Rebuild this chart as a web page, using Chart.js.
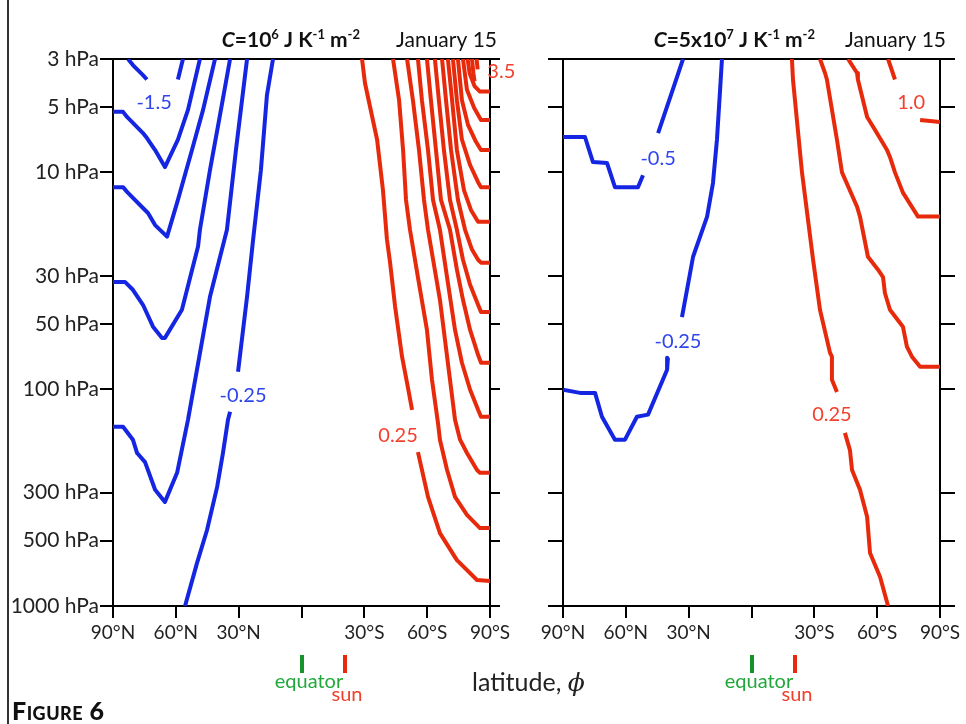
<!DOCTYPE html>
<html>
<head>
<meta charset="utf-8">
<title>Figure 6</title>
<script src="https://cdn.jsdelivr.net/npm/chart.js@4.4.1/dist/chart.umd.min.js"></script>
<style>
  body { margin: 0; background: #fff; }
  #fig { position: relative; width: 966px; height: 724px; overflow: hidden; font-family: Lato, "Noto Sans", sans-serif; color: #111; }
  #left { position: absolute; left: 0; top: 0; }
  #right { position: absolute; left: 520px; top: 0; }
  #frame { position: absolute; left: 7px; top: -4px; width: 960px; height: 740px; border-left: 2px solid #333; }
  #xlabel { position: absolute; left: 472px; top: 667px; font-size: 25px; line-height: 28px; white-space: nowrap; color: #222; }
  #xlabel i { font-family: "DejaVu Serif", serif; font-size: 25px; }
  #fignum { position: absolute; left: 12px; top: 696px; font-size: 25px; font-weight: 900; font-variant: small-caps; letter-spacing: 0.5px; line-height: 28px; }
</style>
</head>
<body>
<div id="fig">
  <div id="frame"></div>
  <canvas id="left" width="520" height="724"></canvas>
  <canvas id="right" width="446" height="724"></canvas>
  <div id="xlabel">latitude, <i>ϕ</i></div>
  <div id="fignum">Figure 6</div>
</div>
<script>
// axes: latitude in degrees (north positive), pressure in hPa
const latTicks = [90, 60, 30, 0, -30, -60, -90];
const pressureTicks = [3, 5, 10, 30, 50, 100, 300, 500, 1000];
const sunLat = -21;

// contours, C = 1e6 J K-1 m-2   ([lat, hPa], null = break for the label)
const leftNeg150 = [[82.8, 3], [80.5, 3.2], [75.7, 3.56], [73.8, 3.73], null, [59.0, 3.73], [56.6, 3]];
const leftNeg125 = [[90, 5.26], [85.2, 5.26], [83.3, 5.55], [75.7, 6.59], [73.8, 6.95], [69.9, 7.89], [65.2, 9.45], [59.0, 7.07], [54.2, 5.15], [48.5, 3]];
const leftNeg100 = [[90, 11.7], [85.2, 11.7], [83.3, 12.3], [75.7, 14.6], [73.3, 15.4], [69.9, 17.5], [64.2, 19.8], [59.0, 13.4], [52.3, 7.89], [47.0, 5.15], [41.3, 3]];
const leftNeg075 = [[90, 32.0], [84.3, 32.0], [80.5, 34.8], [75.7, 40.8], [70.9, 51.5], [66.6, 58.0], [65.2, 58.0], [57.1, 43.0], [49.4, 22.0], [48.5, 18.4], [43.7, 9.77], [38.9, 5.43], [34.1, 3]];
const leftNeg050 = [[90, 149], [85.2, 149], [80.5, 171], [78.5, 197], [74.7, 217], [69.9, 291], [65.2, 331], [59.4, 243], [54.2, 138.5], [49.9, 81.3], [43.7, 37.5], [35.6, 18.4], [31.3, 7.89], [26.0, 3]];
const leftNeg025 = [[13.6, 3], [16.5, 4.4], [19.4, 9.8], [23.1, 20.4], [26.0, 37.5], [30.3, 83], null, [34.1, 127], [35.1, 138.5], [37.5, 197], [40.3, 283], [45.1, 446], [49.9, 634], [55.6, 1000]];

const leftPos025 = [[-28.9, 3], [-30.3, 3.87], [-36.1, 7.07], [-38.9, 12.1], [-40.8, 20.4], [-42.3, 26.1], [-44.7, 41.7], [-48.0, 70.8], [-50.4, 93.4], [-52.8, 124.5], null, [-55.6, 195], [-60.4, 314], [-66.1, 461], [-74.2, 614], [-83.8, 759], [-90, 767]];
const leftPos050 = [[-43.7, 3], [-46.6, 4.65], [-48.5, 7.89], [-49.9, 13.4], [-51.8, 18.4], [-55.6, 30.5], [-59.9, 53.3], [-62.3, 90.4], [-65.2, 144], [-66.1, 171], [-69.5, 236], [-73.3, 314], [-79.0, 380], [-85.2, 437], [-90, 437]];
const leftPos075 = [[-50.4, 3], [-53.2, 4.65], [-56.1, 7.89], [-58.5, 13.4], [-60.4, 18.4], [-66.1, 38.7], [-70.9, 90.4], [-73.3, 138.5], [-75.7, 171], [-79.0, 197], [-83.8, 236], [-85.2, 243], [-90, 243]];
const leftPos100 = [[-55.6, 3], [-57.5, 4.65], [-60.4, 7.89], [-62.8, 13.4], [-66.1, 18.4], [-69.5, 30.5], [-73.3, 53.3], [-76.6, 75.5], [-80.5, 100.6], [-84.3, 124.5], [-85.7, 134], [-90, 134]];
const leftPos125 = [[-59.9, 3], [-61.8, 4.65], [-64.2, 7.89], [-66.6, 13.4], [-70.9, 18.4], [-74.2, 28.1], [-77.1, 38.7], [-80.5, 53.3], [-84.3, 69.4], [-85.7, 75.5], [-90, 75.5]];
const leftPos150 = [[-63.7, 3], [-65.6, 4.65], [-68.0, 7.89], [-70.9, 13.4], [-74.2, 18.4], [-77.1, 25.3], [-80.5, 33.0], [-84.3, 40.8], [-85.7, 44.0], [-90, 44.0]];
const leftPos175 = [[-67.1, 3], [-69.0, 4.65], [-71.4, 7.89], [-74.7, 13.4], [-78.1, 18.4], [-81.4, 22.7], [-84.3, 25.3], [-85.7, 26.1], [-90, 26.1]];
const leftPos200 = [[-69.9, 3], [-71.9, 4.65], [-74.2, 7.89], [-77.6, 12.1], [-80.9, 14.9], [-84.3, 16.9], [-85.7, 16.9], [-90, 16.9]];
const leftPos225 = [[-72.3, 3], [-74.2, 4.65], [-76.6, 7.07], [-80.5, 9.25], [-84.3, 11.1], [-85.7, 11.7], [-90, 11.7]];
const leftPos250 = [[-74.7, 3], [-76.6, 4.65], [-79.5, 6.04], [-83.3, 7.23], [-85.7, 7.89], [-90, 7.89]];
const leftPos275 = [[-77.1, 3], [-79.0, 4.16], [-82.4, 5.04], [-85.7, 5.73], [-90, 5.73]];
const leftPos300 = [[-79.3, 3], [-80.3, 3.5], [-82.6, 4.0], [-85.2, 4.24], [-90, 4.24]];
const leftPos325 = [[-81.4, 3], [-82.1, 3.5], [-82.6, 3.8]];
const leftPos350 = [[-83.6, 3], [-84.1, 3.35]];

// contours, C = 5e7 J K-1 m-2
const rightNeg050 = [[90, 6.87], [79.5, 6.87], [75.7, 8.96], [69.0, 9.05], [65.2, 11.7], [54.2, 11.7], [51.8, 10.3], null, [44.6, 6.59], [36.5, 3.87], [32.7, 3]];
const rightNeg025 = [[14.1, 3], [15.0, 4.16], [16.5, 7.07], [18.4, 11.2], [21.2, 16.0], [27.9, 24.5], [30.8, 34.8], [33.2, 46.5], null, [39.9, 71.6], [40.3, 81.3], [49.4, 131], [54.7, 134], [60.4, 171], [65.2, 171], [71.4, 134], [74.7, 104], [81.9, 104], [90, 100.6]];
const rightPos025 = [[-19.3, 3], [-19.8, 3.73], [-24.1, 10.0], [-29.4, 25.3], [-32.7, 43.0], [-37.5, 68.0], [-38.4, 70.8], [-38.4, 90.4], [-40.8, 103], null, [-44.6, 159], [-47.0, 191], [-48.0, 236], [-51.8, 291], [-55.2, 388], [-56.6, 570], [-61.4, 735], [-65.2, 1000]];
const rightPos050 = [[-32.7, 3], [-35.1, 3.48], [-36.0, 3.73], [-40.8, 7.07], [-43.2, 10.0], [-50.4, 14.4], [-51.8, 16.0], [-55.6, 24.5], [-60.4, 28.1], [-62.8, 30.4], [-63.7, 36.0], [-66.1, 43.0], [-72.3, 51.5], [-74.2, 63.7], [-76.6, 70.8], [-80.5, 78.8], [-90, 78.8]];
const rightPos075 = [[-46.1, 3], [-50.4, 3.48], [-50.8, 3.73], [-55.2, 5.55], [-59.0, 6.38], [-64.7, 7.89], [-66.1, 8.49], [-68.5, 10.0], [-72.3, 12.4], [-79.5, 16.0], [-90, 16.0]];
const rightPos100 = [[-65.2, 3], [-68.5, 3.73], null, [-80.5, 5.73], [-90, 5.86]];

// contour labels: [text, lat, hPa]
const leftNegLabels = [['-1.5', 70.4, 4.77], ['-0.25', 27.9, 107]];
const leftPosLabels = [['0.25', -46.1, 164], ['3.5', -95.4, 3.44]];
const rightNegLabels = [['-0.5', 44.6, 8.68], ['-0.25', 35.1, 60]];
const rightPosLabels = [['0.25', -38.4, 131], ['1.0', -76.2, 4.77]];

const BLUE = '#1526e3';
const RED = '#e82a0c';
const BLUE_TXT = '#2f45ee';
const RED_TXT = '#f2402c';
const GREEN = '#17932c';
const FONT = 'Lato, "Noto Sans", sans-serif';

function toPoints(arr) {
    let lastX = 0;
    return arr.map(p => {
        if (!p) return { x: lastX, y: null };
        lastX = p[0];
        return { x: p[0], y: p[1] };
    });
}

function contours(list, color) {
    return list.map(arr => ({
        data: toPoints(arr),
        borderColor: color,
        borderWidth: 4,
        pointRadius: 0,
        tension: 0,
        fill: false,
        spanGaps: false,
        borderJoinStyle: 'round',
        xAxisID: 'x',
        yAxisID: 'y',
    }));
}

// title pieces: C=10^6 J K^-1 m^-2
function drawRichText(ctx, pieces, rightX, baseY) {
    let total = 0;
    pieces.forEach(p => { ctx.font = p.font; total += ctx.measureText(p.t).width; });
    let x = rightX - total;
    pieces.forEach(p => {
        ctx.font = p.font;
        ctx.fillText(p.t, x, baseY + (p.dy || 0));
        x += ctx.measureText(p.t).width;
    });
}

function titlePieces(mantissa, exp) {
    const big = 'bold 21px ' + FONT;
    const sup = 'bold 13px ' + FONT;
    return [
        { t: 'C', font: 'italic bold 21px ' + FONT },
        { t: '=' + mantissa, font: big },
        { t: exp, font: sup, dy: -8 },
        { t: ' J K', font: big },
        { t: '-1', font: sup, dy: -8 },
        { t: ' m', font: big },
        { t: '-2', font: sup, dy: -8 },
    ];
}

const overlayPlugin = {
    id: 'overlay',
    afterDraw(chart, args, opts) {
        const ctx = chart.ctx;
        const xs = chart.scales.x, ys = chart.scales.y;
        ctx.save();

        // contour labels
        ctx.font = '20px ' + FONT;
        ctx.textAlign = 'center';
        ctx.textBaseline = 'middle';
        opts.labels.forEach(l => {
            ctx.fillStyle = l[3];
            ctx.fillText(l[0], xs.getPixelForValue(l[1]), ys.getPixelForValue(l[2]));
        });

        // equator and subsolar latitude markers
        const eq = Math.round(xs.getPixelForValue(0));
        const sun = Math.round(xs.getPixelForValue(sunLat));
        ctx.fillStyle = GREEN;
        ctx.fillRect(eq - 2, 655, 4, 18);
        ctx.fillStyle = RED;
        ctx.fillRect(sun - 2, 655, 4, 18);
        ctx.textBaseline = 'alphabetic';
        ctx.font = '20px ' + FONT;
        ctx.fillStyle = '#22a83a';
        ctx.fillText('equator', eq + 7, 688);
        ctx.fillStyle = RED_TXT;
        ctx.fillText('sun', sun + 2, 701);

        // panel titles
        ctx.textAlign = 'left';
        ctx.fillStyle = '#111';
        drawRichText(ctx, titlePieces(opts.mantissa, opts.exp), opts.titleRight, 47);
        ctx.font = '21px ' + FONT;
        ctx.textAlign = 'right';
        ctx.fillText('January 15', opts.dateRight, 47);
        ctx.restore();
    }
};

function makePanel(id, datasets, conf) {
    return new Chart(document.getElementById(id), {
        type: 'line',
        data: { datasets: datasets },
        plugins: [overlayPlugin],
        options: {
            responsive: false,
            animation: false,
            events: [],
            devicePixelRatio: 1,
            layout: { padding: { top: 59, bottom: 78, left: 0, right: 0 } },
            plugins: {
                legend: { display: false },
                tooltip: { enabled: false },
                overlay: conf.overlay,
            },
            scales: {
                x: {
                    type: 'linear', min: -90, max: 90, reverse: true, position: 'bottom',
                    afterBuildTicks: s => { s.ticks = latTicks.map(v => ({ value: v })); },
                    afterFit: s => { s.height = 40; },
                    grid: { drawOnChartArea: false, tickLength: 12, color: '#000', lineWidth: 2 },
                    border: { color: '#000', width: 2 },
                    ticks: {
                        autoSkip: false, maxRotation: 0, padding: 3, color: '#222',
                        font: { family: FONT, size: 19 },
                        callback: v => v > 0 ? v + '°N' : (v < 0 ? (-v) + '°S' : ''),
                    },
                },
                xTop: {
                    type: 'linear', min: -90, max: 90, position: 'top',
                    afterFit: s => { s.height = 0; },
                    grid: { display: false },
                    border: { color: '#000', width: 2 },
                    ticks: { display: false },
                },
                y: {
                    type: 'logarithmic', min: 3, max: 1000, reverse: true, position: 'left',
                    afterBuildTicks: s => { s.ticks = pressureTicks.map(v => ({ value: v })); },
                    afterFit: s => { s.width = conf.yWidth; },
                    grid: { drawOnChartArea: false, tickLength: conf.tickLeft, color: '#000', lineWidth: 2 },
                    border: { color: '#000', width: 2 },
                    ticks: {
                        display: conf.yLabels, autoSkip: false, padding: 1, color: '#222',
                        font: { family: FONT, size: 21 },
                        callback: v => v + ' hPa',
                    },
                },
                yR: {
                    type: 'logarithmic', min: 3, max: 1000, reverse: true, position: 'right',
                    afterBuildTicks: s => { s.ticks = pressureTicks.map(v => ({ value: v })); },
                    afterFit: s => { s.width = conf.yRWidth; },
                    grid: { drawOnChartArea: false, tickLength: conf.tickRight, color: '#000', lineWidth: 2 },
                    border: { color: '#000', width: 2 },
                    ticks: { display: false },
                },
            },
        },
    });
}

const withColor = (list, c) => list.map(l => l.concat([c]));

makePanel('left',
    contours([leftNeg150, leftNeg125, leftNeg100, leftNeg075, leftNeg050, leftNeg025], BLUE).concat(
        contours([leftPos025, leftPos050, leftPos075, leftPos100, leftPos125, leftPos150, leftPos175,
            leftPos200, leftPos225, leftPos250, leftPos275, leftPos300, leftPos325, leftPos350], RED)),
    {
        yWidth: 113, yRWidth: 30, tickLeft: 13, tickRight: 10, yLabels: true,
        overlay: {
            labels: withColor(leftNegLabels, BLUE_TXT).concat(withColor(leftPosLabels, RED_TXT)),
            mantissa: '10', exp: '6', titleRight: 360, dateRight: 497,
        },
    });

makePanel('right',
    contours([rightNeg050, rightNeg025], BLUE).concat(
        contours([rightPos025, rightPos050, rightPos075, rightPos100], RED)),
    {
        yWidth: 43, yRWidth: 26, tickLeft: 15, tickRight: 15, yLabels: false,
        overlay: {
            labels: withColor(rightNegLabels, BLUE_TXT).concat(withColor(rightPosLabels, RED_TXT)),
            mantissa: '5x10', exp: '7', titleRight: 295, dateRight: 426,
        },
    });
</script>
</body>
</html>
